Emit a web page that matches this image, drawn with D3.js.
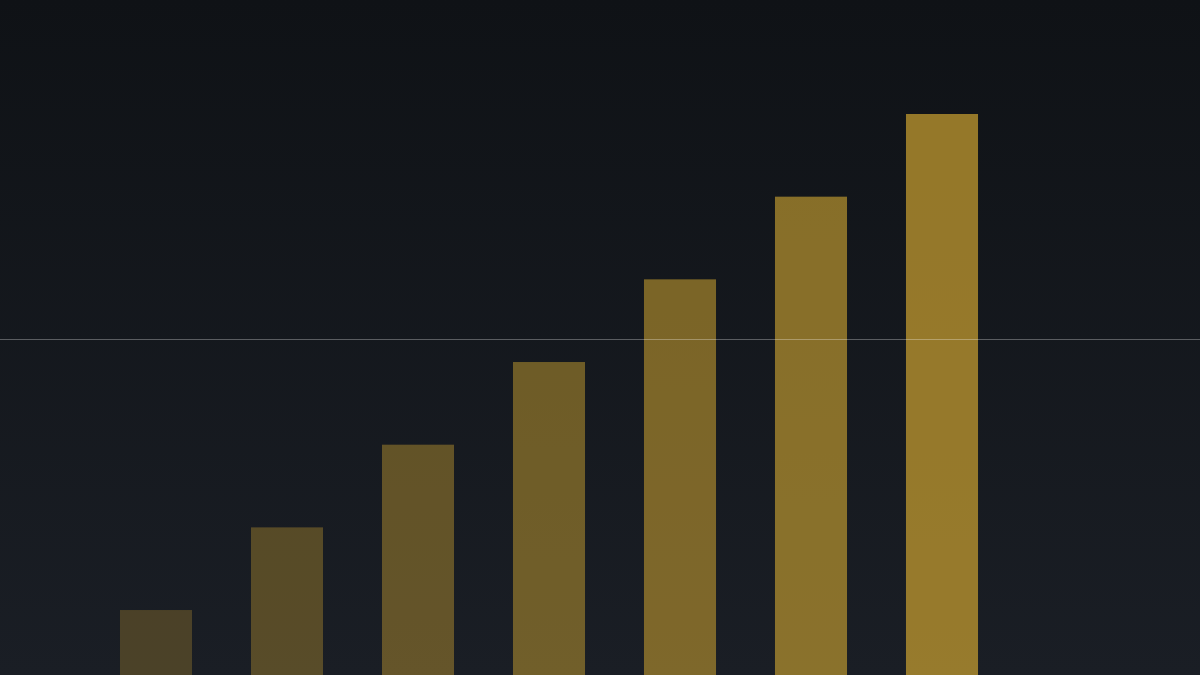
<!DOCTYPE html>
<html>
<head>
<meta charset="utf-8">
<script src="https://cdn.jsdelivr.net/npm/d3@7"></script>
<style>
  html, body { margin: 0; padding: 0; background: #14181e; overflow: hidden; }
</style>
</head>
<body>
<div class="canvas"></div>
<script>
// data
const categories = ['1', '2', '3', '4', '5', '6', '7']
const values = [1, 2, 3, 4, 5, 6, 7]
const opacities = [0.28, 0.35, 0.42, 0.49, 0.56, 0.63, 0.70]
const refValue = 4.28

// dimension
const dims = { width: 1200, height: 675 }

const svg = d3.select('.canvas')
  .append('svg')
  .attr('width', dims.width)
  .attr('height', dims.height)

// background gradient
const defs = svg.append('defs')
const bg = defs.append('linearGradient')
  .attr('id', 'bg')
  .attr('x1', 0).attr('y1', 0)
  .attr('x2', 0).attr('y2', 1)
bg.append('stop').attr('offset', '0%').attr('stop-color', '#0f1216')
bg.append('stop').attr('offset', '100%').attr('stop-color', '#1a1e25')

svg.append('rect')
  .attr('width', dims.width)
  .attr('height', dims.height)
  .attr('fill', 'url(#bg)')

const x = d3.scaleBand()
  .domain(categories)
  .range([90.5, 1007.5])
  .paddingInner(0.45)
  .paddingOuter(0.225)

// baseline sits a bit below the bottom edge
const y = d3.scaleLinear()
  .domain([0, 7])
  .range([692.7, 114])

svg.append('g')
  .selectAll('rect')
  .data(values)
  .enter()
  .append('rect')
    .attr('x', (d, i) => x(categories[i]))
    .attr('y', d => y(d))
    .attr('width', x.bandwidth())
    .attr('height', d => y(0) - y(d))
    .attr('fill', '#cda331')
    .attr('fill-opacity', (d, i) => opacities[i])

// reference line
svg.append('line')
  .attr('x1', 0)
  .attr('x2', dims.width)
  .attr('y1', Math.round(y(refValue)) + 0.5)
  .attr('y2', Math.round(y(refValue)) + 0.5)
  .attr('stroke', '#ffffff')
  .attr('stroke-opacity', 0.3)
  .attr('stroke-width', 1)
</script>
</body>
</html>
